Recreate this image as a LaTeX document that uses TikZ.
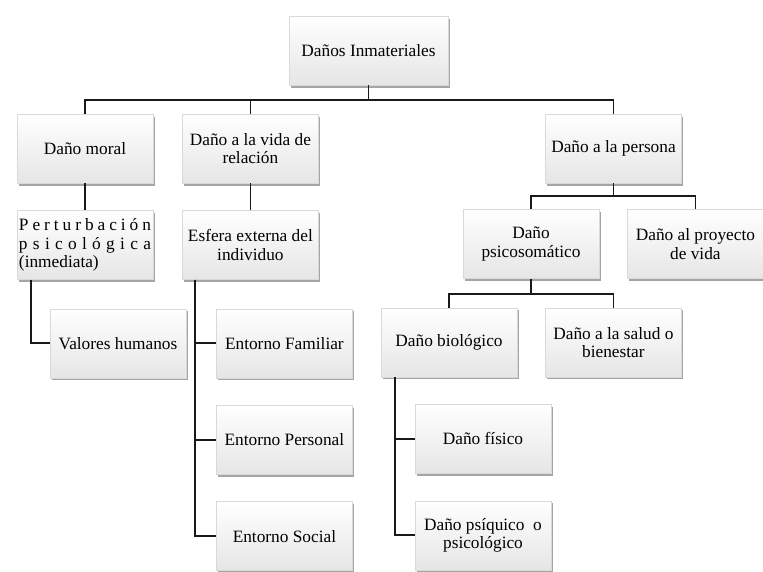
\documentclass[tikz,border=0pt]{standalone}
\usepackage{fontspec}
\setmainfont{Liberation Serif}
\usepackage{tikz}
\usetikzlibrary{positioning}
\usetikzlibrary{shadows}

\begin{document}
\begin{tikzpicture}[x=1pt, y=1pt,
boxnode/.style={rectangle, draw=black!15, thin, top color=white, bottom color=black!10,
  minimum width=136pt, minimum height=69pt, align=center, inner sep=3pt,
  font=\fontsize{17.3}{18.5}\selectfont,
  drop shadow={shadow xshift=1.5pt, shadow yshift=-2.5pt, opacity=0.5, fill=black!70}},
rootnode/.style={boxnode, minimum width=159pt},
link/.style={draw=black!90, line width=1.8pt}]
\useasboundingbox (0,0) rectangle (763,-571);

\node[rootnode] (root) at (368.5,-50.5) {Daños Inmateriales};
\node[boxnode] (moral) at (85,-148.5) {Daño moral};
\node[boxnode] (vida) [right=29pt of moral] {Daño a la vida de\\relación};
\node[boxnode] (persona) at (613.5,-148.5) {Daño a la persona};

\node[boxnode, inner xsep=2pt, align=left] (perturb) [below=27pt of moral]
  {\makebox[132pt][s]{P e r t u r b a c i ó n}\\
   \makebox[132pt][s]{p s i c o l ó g i c a}\\
   (inmediata)};
\node[boxnode] (esfera) [below=27pt of vida] {Esfera externa del\\individuo};
\node[boxnode] (psico) at (531,-244) {Daño\\psicosomático};
\node[boxnode] (proyecto) [right=28pt of psico] {Daño al proyecto\\de vida};

\node[boxnode] (valores) [below=29pt of perturb, xshift=33pt] {Valores humanos};
\node[boxnode] (familiar) [below=29pt of esfera, xshift=34pt] {Entorno Familiar};
\node[boxnode] (personal) [below=27pt of familiar] {Entorno Personal};
\node[boxnode] (social) [below=27pt of personal] {Entorno Social};

\node[boxnode] (biologico) [below=29pt of psico, xshift=-82pt] {Daño biológico};
\node[boxnode] (salud) [right=28pt of biologico] {Daño a la salud o\\bienestar};
\node[boxnode] (fisico) [below=27pt of biologico, xshift=34pt] {Daño físico};
\node[boxnode] (psiquico) [below=27pt of fisico] {Daño psíquico~ o\\psicológico};

\coordinate (b1) at ([yshift=-15pt]root.south);
\coordinate (b2) at ([yshift=-13pt]persona.south);
\coordinate (b3) at ([yshift=-15pt]psico.south);

\draw[link] (root.south) -- (b1);
\draw[link] (b1) -| (moral.north);
\draw[link] (b1) -| (vida.north);
\draw[link] (b1) -| (persona.north);

\draw[link] (moral.south) -- (perturb.north);
\draw[link] (vida.south) -- (esfera.north);

\draw[link] (persona.south) -- (b2);
\draw[link] (b2) -| (psico.north);
\draw[link] (b2) -| (proyecto.north);

\draw[link] (psico.south) -- (b3);
\draw[link] (b3) -| (biologico.north);
\draw[link] (b3) -| (salud.north);

\draw[link] ([xshift=14pt]perturb.south west) |- (valores.west);
\draw[link] ([xshift=13pt]esfera.south west) |- (familiar.west);
\draw[link] ([xshift=13pt]esfera.south west) |- (personal.west);
\draw[link] ([xshift=13pt]esfera.south west) |- (social.west);
\draw[link] ([xshift=14pt]biologico.south west) |- (fisico.west);
\draw[link] ([xshift=14pt]biologico.south west) |- (psiquico.west);
\end{tikzpicture}
\end{document}
